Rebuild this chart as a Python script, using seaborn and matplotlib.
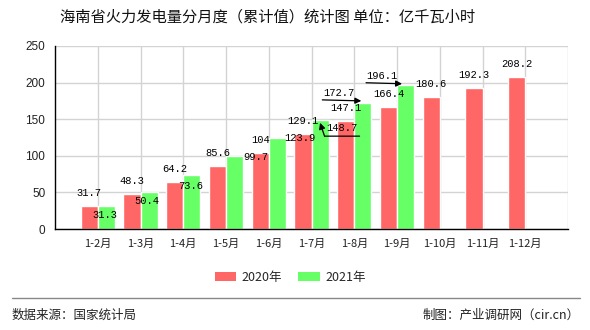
import matplotlib
matplotlib.use('Agg')
import matplotlib.pyplot as plt
import seaborn as sns
import pandas as pd
import numpy as np
from matplotlib.transforms import offset_copy
from matplotlib.patches import Patch

# ---- data ----
months = ['1-2月', '1-3月', '1-4月', '1-5月', '1-6月', '1-7月', '1-8月',
          '1-9月', '1-10月', '1-11月', '1-12月']
v2020 = [31.7, 48.3, 64.2, 85.6, 104, 129.1, 147.1, 166.4, 180.6, 192.3, 208.2]
v2021 = [31.3, 50.4, 73.6, 99.7, 123.9, 148.7, 172.7, 196.1, np.nan, np.nan, np.nan]
years = ['2020年', '2021年']
yticks = [0, 50, 100, 150, 200, 250]
title = '海南省火力发电量分月度（累计值）统计图 单位：亿千瓦小时'
source = '数据来源：国家统计局'
credit = '制图：产业调研网（cir.cn）'

# ---- style ----
colors = ['#FF6666', '#66FF66']
# green label placement (pixel offsets from bar top, image coords: +y down)
green_label_off = [(-1.5, 9), (-2, 9), (-1, 11), (21, 1), (22.5, 0),
                   (21.5, 8), (-23.5, -9.7), (-23.5, -9.7)]
# leader lines: list of segments (start, end, arrow?)
leaders = {
    5: [((39.5, 16), (4.5, 16), False), ((4.5, 16), (0, 2.7), True)],
    6: [((-40.5, -2.7), (-1.5, -1.7), True)],
    7: [((-39.5, -2.7), (-3.5, -1.7), True)],
}

sns.set_style('white')
plt.rcParams['font.family'] = ['Noto Sans CJK SC', 'DejaVu Sans']

df = pd.DataFrame({
    'month': months * 2,
    'value': v2020 + v2021,
    'year': [years[0]] * len(months) + [years[1]] * len(months),
})

fig = plt.figure(figsize=(5.9, 3.3), dpi=100)
ax = fig.add_axes([55 / 590, 1 - 229 / 330, (568 - 55) / 590, (229 - 46) / 330])

sns.barplot(data=df, x='month', y='value', hue='year', order=months,
            hue_order=years, palette=colors, saturation=1, width=0.8,
            ax=ax, legend=False, zorder=2)

ax.set_xlim(-1, 11)
ax.set_ylim(0, 250)
ax.set_yticks(yticks)
ax.set_yticklabels([str(t) for t in yticks], fontsize=8.5, family='Liberation Sans')
ax.set_xticks(list(range(len(months))) + [len(months)])
ax.set_xticklabels(months + [''], fontsize=8)
ax.set_xlabel('')
ax.set_ylabel('')
ax.grid(True, color='#d3d3d3', lw=1, zorder=0)
ax.set_axisbelow(True)
for s in ['top', 'right']:
    ax.spines[s].set_visible(False)
for s in ['left', 'bottom']:
    ax.spines[s].set_color('black')
    ax.spines[s].set_linewidth(1)
ax.tick_params(axis='both', which='both', direction='out', length=4,
               color='black', width=1, pad=3, labelcolor='#222222')

lab_font = dict(family='Liberation Mono', fontsize=7.5, color='black')

def fmt(v):
    return f'{v:g}'

# red labels
for i, v in enumerate(v2020):
    ax.annotate(fmt(v), xy=(i - 0.2, v), xytext=(0, 13), textcoords='offset pixels',
                ha='center', va='center', zorder=5, **lab_font)

# green labels
for i, v in enumerate(v2021):
    if np.isnan(v):
        continue
    dx, dy = green_label_off[i]
    ax.annotate(fmt(v), xy=(i + 0.2, v), xytext=(dx, -dy), textcoords='offset pixels',
                ha='center', va='center', zorder=5, **lab_font)
    for (s, e, arrow) in leaders.get(i, []):
        tA = offset_copy(ax.transData, fig=fig, x=s[0], y=-s[1], units='dots')
        tB = offset_copy(ax.transData, fig=fig, x=e[0], y=-e[1], units='dots')
        ax.annotate('', xy=(i + 0.2, v), xycoords=tB, xytext=(i + 0.2, v), textcoords=tA,
                    arrowprops=dict(arrowstyle='-|>' if arrow else '-', color='black',
                                    lw=0.9, mutation_scale=9, shrinkA=0, shrinkB=0),
                    zorder=6)

# title
fig.text(60 / 590, 1 - 17 / 330, title, fontsize=11, ha='left', va='center', color='#111111')

# legend
handles = [Patch(facecolor=c, edgecolor='none') for c in colors]
fig.legend(handles, years, loc='center', bbox_to_anchor=(290 / 590, 1 - 277 / 330),
           ncol=2, frameon=False, fontsize=9, handlelength=1.75, handleheight=0.7,
           handletextpad=0.4, columnspacing=1.3)

# footer
fig.add_artist(plt.Line2D([12 / 590, 580 / 590], [1 - 298 / 330, 1 - 298 / 330],
                          color='#888888', lw=1))
fig.text(12 / 590, 1 - 315 / 330, source, fontsize=9, ha='left', va='center', color='#222222')
fig.text(580 / 590, 1 - 315 / 330, credit, fontsize=9, ha='right', va='center', color='#222222')

fig.savefig('out.png', dpi=100)
